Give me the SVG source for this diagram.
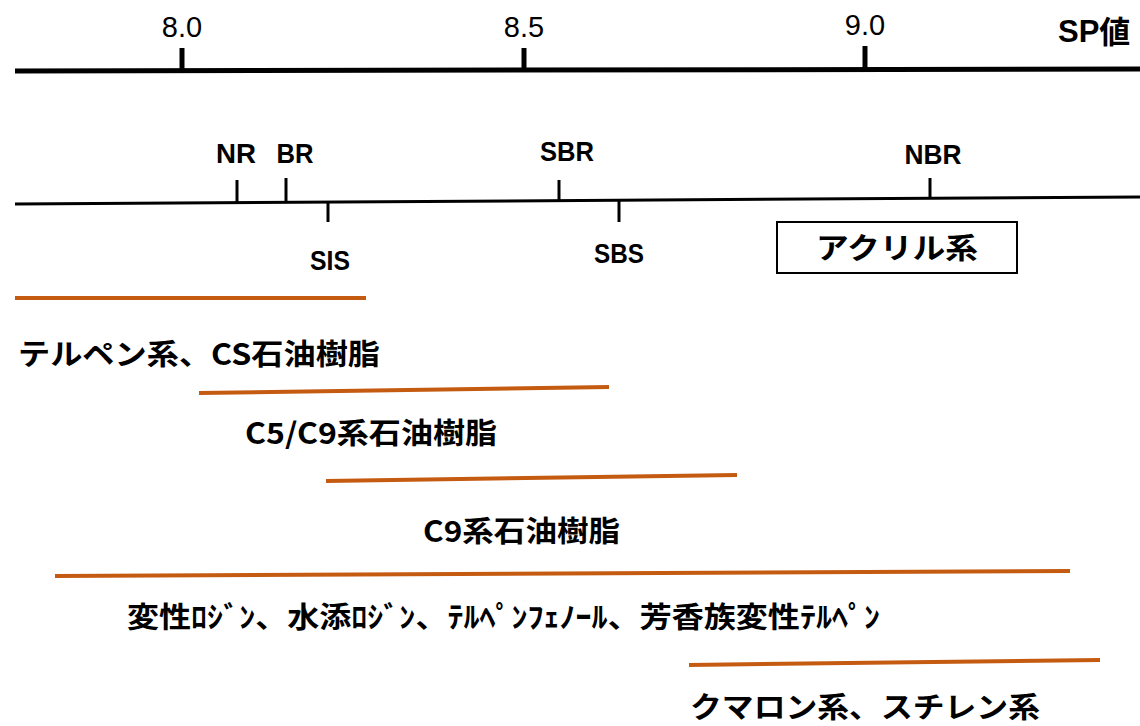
<svg xmlns="http://www.w3.org/2000/svg" width="1140" height="726" viewBox="0 0 1140 726">
<style>
.ax{stroke:#000;fill:none}
.rng{stroke:#C55A11;stroke-width:4;fill:none;stroke-linecap:butt}
.num{font-family:"Liberation Sans",Arial,sans-serif;font-size:29px;fill:#000;text-anchor:middle}
.lab{font-family:"Liberation Sans",Arial,sans-serif;font-weight:bold;font-size:28px;fill:#000;text-anchor:middle}
.jp{font-family:"Noto Sans CJK JP","Liberation Sans",sans-serif;font-weight:bold;font-size:29px;fill:#000}
</style>
<rect width="1140" height="726" fill="#fff"/>
<g id="connectors">
  <line class="ax" x1="15" y1="71" x2="1140" y2="69" stroke-width="5"/>
  <line class="ax" x1="182" y1="48" x2="182" y2="72" stroke-width="5"/>
  <line class="ax" x1="524" y1="48" x2="524" y2="72" stroke-width="5"/>
  <line class="ax" x1="865" y1="46" x2="865" y2="70" stroke-width="5"/>
  <line class="ax" x1="15" y1="204" x2="1140" y2="197" stroke-width="3"/>
  <line class="ax" x1="237" y1="180" x2="237" y2="203" stroke-width="3"/>
  <line class="ax" x1="286" y1="178" x2="286" y2="202" stroke-width="3"/>
  <line class="ax" x1="559" y1="180" x2="559" y2="201" stroke-width="3"/>
  <line class="ax" x1="930" y1="178" x2="930" y2="199" stroke-width="3"/>
  <line class="ax" x1="328" y1="202" x2="328" y2="222" stroke-width="3"/>
  <line class="ax" x1="619" y1="200" x2="619" y2="222" stroke-width="3"/>
  <line class="rng" x1="15" y1="298" x2="366" y2="298"/>
  <line class="rng" x1="199" y1="393" x2="609" y2="387"/>
  <line class="rng" x1="326" y1="481" x2="737" y2="475"/>
  <line class="rng" x1="55" y1="576" x2="1070" y2="571"/>
  <line class="rng" x1="689" y1="665" x2="1100" y2="660"/>
</g>
<g id="scale-labels">
  <text class="num" x="182" y="37">8.0</text>
  <text class="num" x="524" y="37">8.5</text>
  <text class="num" x="865" y="35">9.0</text>
  <text x="1058" y="42" font-family="Liberation Sans, Arial, sans-serif" font-weight="bold" font-size="31" fill="#000">SP<tspan font-family="Noto Sans CJK JP, sans-serif" font-size="31" dy="1">値</tspan></text>
</g>
<g id="NR"><text class="lab" x="236" y="163" textLength="40" lengthAdjust="spacingAndGlyphs">NR</text></g>
<g id="BR"><text class="lab" x="295" y="163" textLength="37" lengthAdjust="spacingAndGlyphs">BR</text></g>
<g id="SBR"><text class="lab" x="567" y="161" textLength="54" lengthAdjust="spacingAndGlyphs">SBR</text></g>
<g id="NBR"><text class="lab" x="933" y="164" textLength="57" lengthAdjust="spacingAndGlyphs">NBR</text></g>
<g id="SIS"><text class="lab" x="330" y="270" textLength="40" lengthAdjust="spacingAndGlyphs">SIS</text></g>
<g id="SBS"><text class="lab" x="619" y="263" textLength="50" lengthAdjust="spacingAndGlyphs">SBS</text></g>
<g id="acryl">
  <rect x="777" y="222" width="240" height="51" fill="#fff" stroke="#000" stroke-width="2"/>
  <text class="jp" x="897" y="259" text-anchor="middle" textLength="162" lengthAdjust="spacingAndGlyphs">アクリル系</text>
</g>
<g id="terpene"><text class="jp" x="18" y="365" textLength="362" lengthAdjust="spacingAndGlyphs">テルペン系、CS石油樹脂</text></g>
<g id="c5c9"><text class="jp" x="245" y="444" textLength="252" lengthAdjust="spacingAndGlyphs">C5/C9系石油樹脂</text></g>
<g id="c9"><text class="jp" x="423" y="542" textLength="197" lengthAdjust="spacingAndGlyphs">C9系石油樹脂</text></g>
<g id="rosin"><text class="jp" x="127" y="628" textLength="753" lengthAdjust="spacingAndGlyphs">変性ﾛｼﾞﾝ、水添ﾛｼﾞﾝ、ﾃﾙﾍﾟﾝﾌｪﾉｰﾙ、芳香族変性ﾃﾙﾍﾟﾝ</text></g>
<g id="coumarone"><text class="jp" x="690" y="718" textLength="350" lengthAdjust="spacingAndGlyphs">クマロン系、スチレン系</text></g>
</svg>
